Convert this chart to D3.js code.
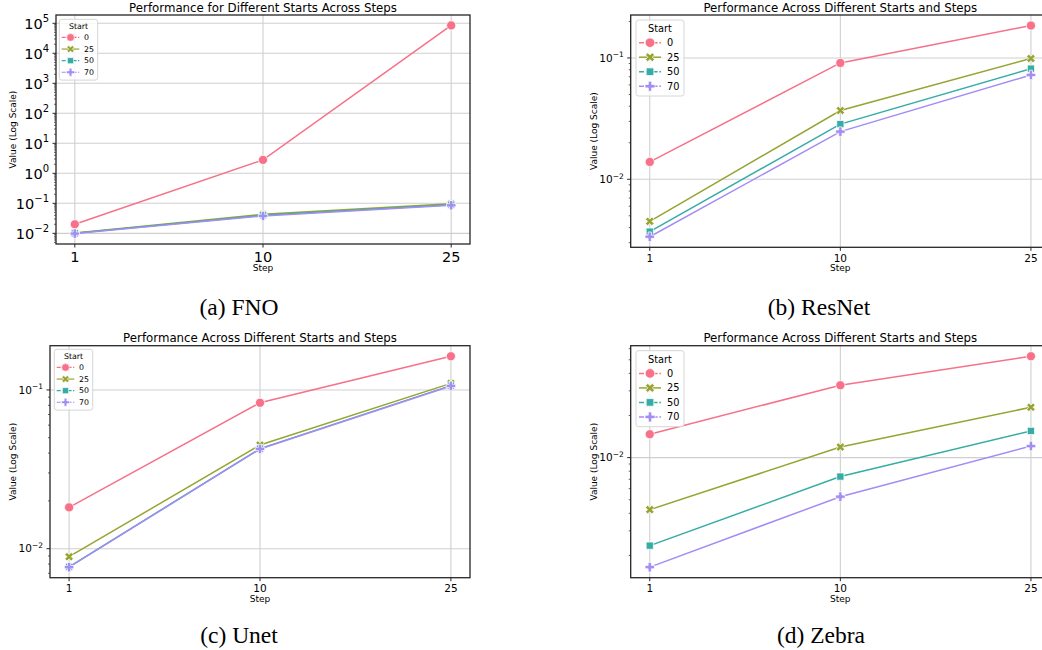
<!DOCTYPE html>
<html><head><meta charset="utf-8">
<script src="https://cdn.jsdelivr.net/npm/d3@7"></script>
<style>
body{margin:0;background:#fff}
svg{display:block}
text{font-family:"DejaVu Sans",sans-serif;fill:#000}
.cap{font-family:"Liberation Serif","Times New Roman",serif}
</style>
</head><body>
<svg id="fig" width="1042" height="650"></svg>
<script>
// ---------- data ----------
const steps = ["1", "10", "25"];
const starts = ["0", "25", "50", "70"];
const colors = ["#f77189", "#97a431", "#36ada4", "#a48cf4"];
const markerKinds = ["circle", "x", "square", "plus"];

// values per Start (rows) across steps 1, 10, 25 (columns)
const fnoValues = [
  [0.02, 2.8, 85000],
  [0.0102, 0.043, 0.096],
  [0.0100, 0.040, 0.090],
  [0.0098, 0.038, 0.086]
];
const resnetValues = [
  [0.0139, 0.091, 0.185],
  [0.0045, 0.0369, 0.099],
  [0.0037, 0.0285, 0.0816],
  [0.00336, 0.0247, 0.0724]
];
const unetValues = [
  [0.0182, 0.083, 0.163],
  [0.0089, 0.045, 0.110],
  [0.00768, 0.0427, 0.1065],
  [0.00765, 0.0425, 0.106]
];
const zebraValues = [
  [0.0147, 0.0329, 0.053],
  [0.00425, 0.0119, 0.0229],
  [0.00235, 0.00732, 0.0155],
  [0.00165, 0.00526, 0.0121]
];
const titles = [
  "Performance for Different Starts Across Steps",
  "Performance Across Different Starts and Steps",
  "Performance Across Different Starts and Steps",
  "Performance Across Different Starts and Steps"
];
const captions = ["(a) FNO", "(b) ResNet", "(c) Unet", "(d) Zebra"];
const xLabel = "Step";
const yLabel = "Value (Log Scale)";
const legendTitle = "Start";

// ---------- layout ----------
const panels = [
  {values: fnoValues, box: {l: 56, t: 15, r: 470, b: 244}, tickFont: 14.5, supFont: 10, lg: {k: 0.8, dx: 3.3, dy: 4.3}, ylabX: 12.7, xlabDy: 27},
  {values: resnetValues, box: {l: 630.7, t: 15, r: 1050, b: 247.3}, tickFont: 10.5, supFont: 7.5, lg: {k: 1, dx: 5.3, dy: 5}, ylabX: 594, xlabDy: 24},
  {values: unetValues, box: {l: 50, t: 345.7, r: 470, b: 577.7}, tickFont: 10.5, supFont: 7.5, lg: {k: 0.8, dx: 4.3, dy: 3.6}, ylabX: 12.7, xlabDy: 24.6},
  {values: zebraValues, box: {l: 630.7, t: 345.7, r: 1050, b: 577.7}, tickFont: 10.5, supFont: 7.5, lg: {k: 1, dx: 5.3, dy: 5}, ylabX: 594, xlabDy: 24.6}
];
const captionPos = [{x: 239, y: 315}, {x: 819, y: 315}, {x: 239, y: 643}, {x: 821, y: 643}];

const svg = d3.select("#fig");

function markerPath(kind, s) {
  const h = s / 2, w = s * 0.17;
  if (kind === "square") {
    const a = s * 0.38;
    return `M${-a},${-a}H${a}V${a}H${-a}Z`;
  }
  if (kind === "circle") {
    const r = s * 0.48;
    return `M${r},0A${r},${r} 0 1,1 ${-r},0A${r},${r} 0 1,1 ${r},0Z`;
  }
  const pts = [[-w,-h],[w,-h],[w,-w],[h,-w],[h,w],[w,w],[w,h],[-w,h],[-w,w],[-h,w],[-h,-w],[-w,-w]];
  let p = pts;
  if (kind === "x") {
    const c = Math.SQRT1_2;
    p = pts.map(([x, y]) => [(x - y) * c * 0.95, (x + y) * c * 0.95]);
  }
  return "M" + p.map(d => d[0].toFixed(2) + "," + d[1].toFixed(2)).join("L") + "Z";
}

function supLabel(sel, exp, fs, sfs) {
  sel.append("tspan").text("10");
  sel.append("tspan").attr("font-size", sfs).attr("dy", -fs * 0.42)
    .text(exp < 0 ? "\u2212" + Math.abs(exp) : String(exp));
}

panels.forEach((P, i) => {
  const B = P.box;
  const g = svg.append("g");
  const all = P.values.flat();
  const lmin = Math.log10(d3.min(all)), lmax = Math.log10(d3.max(all));
  const m = (lmax - lmin) * 0.05;
  const y = d3.scaleLog().domain([Math.pow(10, lmin - m), Math.pow(10, lmax + m)]).range([B.b, B.t]);
  const x = d3.scalePoint().domain(steps).range([B.l, B.r]).padding(0.1);

  const clipId = "clip" + i;
  svg.append("clipPath").attr("id", clipId).append("rect")
    .attr("x", B.l - 6).attr("y", B.t - 6).attr("width", B.r - B.l + 12).attr("height", B.b - B.t + 12);

  const [d0, d1] = y.domain();
  const majors = [], minors = [];
  for (let e = Math.floor(Math.log10(d0)); e <= Math.ceil(Math.log10(d1)); e++) {
    for (let k = 1; k <= 9; k++) {
      const v = k * Math.pow(10, e);
      if (v < d0 || v > d1) continue;
      (k === 1 ? majors : minors).push({v, e});
    }
  }

  // grid
  const grid = g.append("g");
  majors.forEach(t => grid.append("line").attr("x1", B.l).attr("x2", B.r)
    .attr("y1", y(t.v)).attr("y2", y(t.v)).attr("stroke", "#cfcfcf").attr("stroke-width", 1.1));
  steps.forEach(s => grid.append("line").attr("x1", x(s)).attr("x2", x(s))
    .attr("y1", B.t).attr("y2", B.b).attr("stroke", "#cfcfcf").attr("stroke-width", 1.1));

  // data
  const plot = g.append("g").attr("clip-path", `url(#${clipId})`);
  const line = d3.line().x((d, j) => x(steps[j])).y(d => y(d));
  P.values.forEach((row, si) => {
    plot.append("path").attr("d", line(row)).attr("fill", "none")
      .attr("stroke", colors[si]).attr("stroke-width", 1.5);
    row.forEach((v, j) => {
      plot.append("path").attr("d", markerPath(markerKinds[si], 9.5))
        .attr("transform", `translate(${x(steps[j])},${y(v)})`)
        .attr("fill", colors[si]).attr("stroke", "#fff").attr("stroke-width", 0.75);
    });
  });

  // spines
  g.append("rect").attr("x", B.l).attr("y", B.t).attr("width", B.r - B.l).attr("height", B.b - B.t)
    .attr("fill", "none").attr("stroke", "#262626").attr("stroke-width", 1.3);

  // y ticks
  majors.forEach(t => {
    g.append("line").attr("x1", B.l - 3.5).attr("x2", B.l).attr("y1", y(t.v)).attr("y2", y(t.v))
      .attr("stroke", "#262626").attr("stroke-width", 1);
    const tx = g.append("text").attr("x", B.l - 7).attr("y", y(t.v) + P.tickFont * 0.36)
      .attr("text-anchor", "end").attr("font-size", P.tickFont);
    supLabel(tx, t.e, P.tickFont, P.supFont);
  });
  minors.forEach(t => {
    g.append("line").attr("x1", B.l - 2).attr("x2", B.l).attr("y1", y(t.v)).attr("y2", y(t.v))
      .attr("stroke", "#262626").attr("stroke-width", 0.7);
  });
  // x ticks
  steps.forEach(s => {
    g.append("line").attr("x1", x(s)).attr("x2", x(s)).attr("y1", B.b).attr("y2", B.b + 3.5)
      .attr("stroke", "#262626").attr("stroke-width", 1);
    g.append("text").attr("x", x(s)).attr("y", B.b + 7 + P.tickFont * 0.74)
      .attr("text-anchor", "middle").attr("font-size", P.tickFont).text(s);
  });

  // labels
  const cx = (B.l + B.r) / 2, cy = (B.t + B.b) / 2;
  g.append("text").attr("x", cx).attr("y", B.t - 3.5).attr("text-anchor", "middle")
    .attr("font-size", 11.8).text(titles[i]);
  g.append("text").attr("x", cx).attr("y", B.b + P.xlabDy).attr("text-anchor", "middle")
    .attr("font-size", 9).text(xLabel);
  g.append("text").attr("transform", `translate(${P.ylabX},${cy}) rotate(-90)`)
    .attr("text-anchor", "middle").attr("dominant-baseline", "central")
    .attr("font-size", 9).text(yLabel);

  // legend
  const k = P.lg.k, lx = B.l + P.lg.dx, ly = B.t + P.lg.dy;
  const lg = g.append("g");
  lg.append("rect").attr("x", lx).attr("y", ly).attr("width", 48 * k).attr("height", 76 * k)
    .attr("rx", 2.5).attr("fill", "#fff").attr("fill-opacity", 0.8)
    .attr("stroke", "#d6d6d6").attr("stroke-width", 1);
  lg.append("text").attr("x", lx + 24 * k).attr("y", ly + 8.7 * k).attr("dominant-baseline", "central")
    .attr("text-anchor", "middle").attr("font-size", 9.8 * k).text(legendTitle);
  starts.forEach((s, si) => {
    const ry = ly + (22.7 + 14.5 * si) * k;
    lg.append("line").attr("x1", lx + 3 * k).attr("x2", lx + 25 * k).attr("y1", ry).attr("y2", ry)
      .attr("stroke", colors[si]).attr("stroke-width", 1.5 * k)
      .attr("stroke-dasharray", si === 1 ? null : `${5 * k},${1.8 * k}`);
    lg.append("path").attr("d", markerPath(markerKinds[si], 10 * k))
      .attr("transform", `translate(${lx + 14 * k},${ry})`)
      .attr("fill", colors[si]).attr("stroke", "#fff").attr("stroke-width", 0.75 * k);
    lg.append("text").attr("x", lx + 31 * k).attr("y", ry).attr("dominant-baseline", "central")
      .attr("font-size", 9.8 * k).text(s);
  });

  // caption
  svg.append("text").attr("class", "cap").attr("x", captionPos[i].x).attr("y", captionPos[i].y)
    .attr("text-anchor", "middle").attr("font-size", 23.5).text(captions[i]);
});
</script>
</body></html>
